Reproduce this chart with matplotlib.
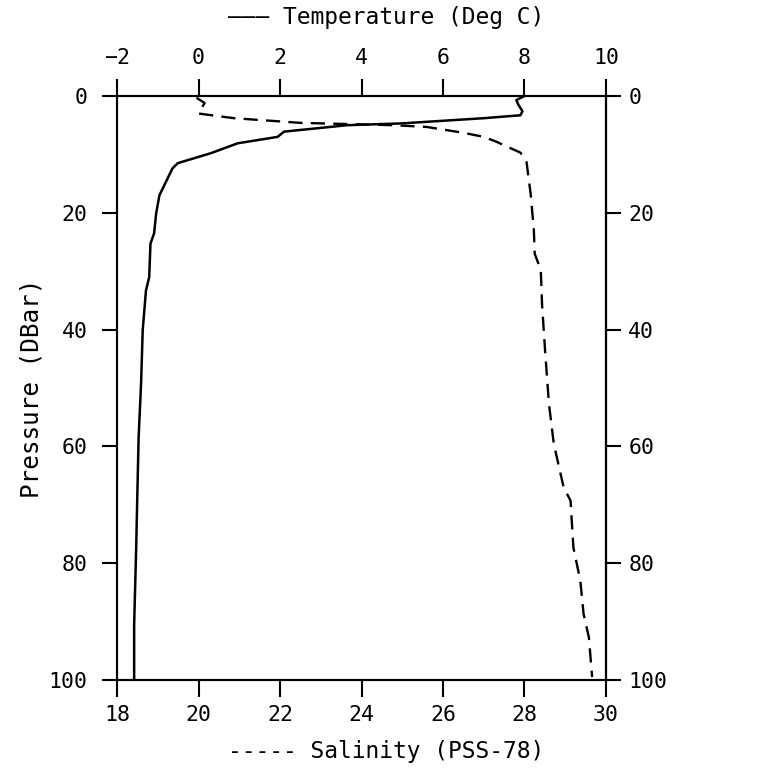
"""CTD profile: temperature and salinity against pressure."""

import matplotlib
matplotlib.use('Agg')
import matplotlib.pyplot as plt

# Temperature profile (Deg C) vs pressure (DBar)
temp_pressure = [0, 0.7, 1.5, 2.6, 3.3, 3.8, 4.7, 5.0, 6.1, 7.0, 8.1, 9.8,
                 11.5, 12.4, 17.0, 20.1, 23.5, 25.3, 31.0, 33.3, 40.1, 49.2,
                 58.4, 67.6, 77.3, 90.5, 100]
temperature = [8.0, 7.8, 7.85, 7.95, 7.9, 7.0, 4.96, 3.65, 2.1, 1.94, 0.96,
               0.30, -0.51, -0.64, -0.96, -1.04, -1.09, -1.18, -1.21, -1.29,
               -1.37, -1.41, -1.47, -1.50, -1.53, -1.58, -1.58]

# Salinity profile (PSS-78) vs pressure (DBar)
sal_pressure = [0.3, 1.2, 3.0, 3.8, 4.6, 5.0, 5.3, 6.3, 7.0, 7.8, 9.7, 11.3,
                16.7, 23.0, 27.0, 29.8, 35.6, 44.1, 52.7, 59.6, 67.0, 69.3,
                77.3, 83.0, 88.7, 92.7, 99.5]
salinity = [19.95, 20.15, 20.0, 20.87, 22.5, 24.8, 25.6, 26.5, 27.0, 27.3,
            27.9, 28.05, 28.15, 28.23, 28.25, 28.4, 28.43, 28.51, 28.6, 28.72,
            28.96, 29.13, 29.2, 29.37, 29.45, 29.58, 29.66]

sal_ticks = [18, 20, 22, 24, 26, 28, 30]
temp_ticks = [-2, 0, 2, 4, 6, 8, 10]
pressure_ticks = [0, 20, 40, 60, 80, 100]

plt.rcParams['font.family'] = ['DejaVu Sans Mono']
plt.rcParams['font.size'] = 15.5

fig = plt.figure(figsize=(7.7, 7.68), dpi=100)
ax = fig.add_axes([0.152, 0.1146, 0.635, 0.7604])

ax.plot(salinity, sal_pressure, color='black', lw=1.7, ls=(0, (6, 3.5)))
ax.set_xlim(18, 30)
ax.set_ylim(100, 0)
ax.set_xticks(sal_ticks)
ax.set_yticks(pressure_ticks)
ax.tick_params(axis='x', direction='out', length=12, width=1.5, pad=6)
ax.tick_params(axis='y', direction='out', length=11, width=1.5, pad=10)
ax.set_xlabel('----- Salinity (PSS-78)', fontsize=16.5)
ax.xaxis.set_label_coords(0.55, -0.123)
ax.xaxis.label.set_va('center')
ax.set_ylabel('Pressure (DBar)', fontsize=17.5)
ax.yaxis.set_label_coords(-0.175, 0.5)
ax.yaxis.label.set_va('center')

right = ax.secondary_yaxis('right')
right.set_yticks(pressure_ticks)
right.tick_params(direction='out', length=11, width=1.5, pad=5)
right.spines['right'].set_linewidth(1.5)

top = ax.twiny()
top.plot(temperature, temp_pressure, color='black', lw=1.8)
top.set_xlim(-2, 10)
top.set_ylim(100, 0)
top.set_xticks(temp_ticks)
top.tick_params(axis='x', direction='out', length=12, width=1.5, pad=8)
top.set_xlabel('\u2014\u2014\u2014 Temperature (Deg C)', fontsize=16.5)
top.xaxis.set_label_coords(0.55, 1.134)
top.xaxis.label.set_va('center')

for a in (ax, top):
    for s in a.spines.values():
        s.set_linewidth(1.5)

fig.savefig('out.png', dpi=100)
